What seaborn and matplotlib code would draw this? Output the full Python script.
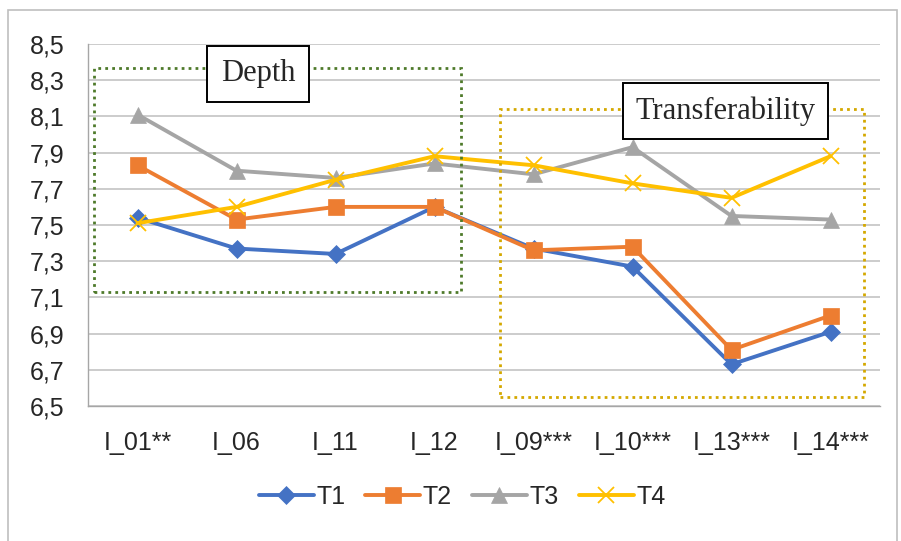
import numpy as np
import pandas as pd
import matplotlib
matplotlib.use("Agg")
import matplotlib.pyplot as plt
import seaborn as sns
from matplotlib.ticker import FuncFormatter
from matplotlib.patches import Rectangle

# ---- data ----
items = ["I_01**", "I_06", "I_11", "I_12", "I_09***", "I_10***", "I_13***", "I_14***"]
t1 = [7.54, 7.37, 7.34, 7.60, 7.37, 7.27, 6.73, 6.91]
t2 = [7.83, 7.53, 7.60, 7.60, 7.36, 7.38, 6.81, 7.00]
t3 = [8.11, 7.80, 7.76, 7.84, 7.78, 7.93, 7.55, 7.53]
t4 = [7.51, 7.60, 7.75, 7.88, 7.83, 7.73, 7.65, 7.88]
series_names = ["T1", "T2", "T3", "T4"]
y_ticks = [6.5, 6.7, 6.9, 7.1, 7.3, 7.5, 7.7, 7.9, 8.1, 8.3, 8.5]

df = pd.DataFrame({"item": items, "T1": t1, "T2": t2, "T3": t3, "T4": t4})
long_df = df.melt(id_vars="item", var_name="series", value_name="score")

palette = {"T1": "#4472C4", "T2": "#ED7D31", "T3": "#A5A5A5", "T4": "#FFC000"}
markers = {"T1": "D", "T2": "s", "T3": "^", "T4": "x"}
sizes = {"T1": 9, "T2": 11, "T3": 11, "T4": 12}

sns.set_style("white")
plt.rcParams["font.family"] = ["Liberation Sans", "DejaVu Sans"]

fig = plt.figure(figsize=(9.01, 5.41), dpi=100)
ax = fig.add_axes([88 / 901, 1 - 406 / 541, 792 / 901, 362 / 541])

for name in series_names:
    sub = long_df[long_df["series"] == name]
    sns.lineplot(data=sub, x="item", y="score", color=palette[name], marker=markers[name],
                 markersize=sizes[name], markeredgecolor=palette[name],
                 markeredgewidth=1.3 if name == "T4" else 0.5,
                 linewidth=2.8, label=name, ax=ax, sort=False)

ax.set_ylim(6.5, 8.5)
ax.set_xlim(-0.5, len(items) - 0.5)
ax.set_yticks(y_ticks)
ax.yaxis.set_major_formatter(FuncFormatter(lambda v, p: f"{v:.1f}".replace(".", ",")))
ax.set_xlabel("")
ax.set_ylabel("")
ax.grid(axis="y", color="#BFBFBF", linewidth=1.1)
ax.set_axisbelow(True)
for s in ["top", "right"]:
    ax.spines[s].set_visible(False)
for s in ["left", "bottom"]:
    ax.spines[s].set_color("#A6A6A6")
    ax.spines[s].set_linewidth(1.0)

# category ticks between items
ax.set_xticks(np.arange(len(items)))
ax.set_xticklabels(items)
ax.set_xticks(np.arange(-0.5, len(items)), minor=True)
ax.tick_params(axis="x", which="major", length=0, labelsize=18, pad=18)
ax.tick_params(axis="x", which="minor", length=7, color="#A6A6A6", direction="out")
ax.tick_params(axis="y", length=7, color="#A6A6A6", direction="out", labelsize=18, pad=10)

# dotted grouping boxes
ax.add_patch(Rectangle((-0.44, 7.13), 3.71, 1.24, fill=False, linestyle=(0, (1, 1.5)),
                       edgecolor="#4E7A2A", linewidth=2.0, zorder=5))
ax.add_patch(Rectangle((3.66, 6.55), 3.68, 1.59, fill=False, linestyle=(0, (1, 1.5)),
                       edgecolor="#D4A800", linewidth=2.0, zorder=5))

ax.text(1.22, 8.335, "Depth", family="Liberation Serif", fontsize=22, ha="center", va="center",
        zorder=6, bbox=dict(boxstyle="square,pad=0.45", facecolor="white",
                            edgecolor="black", linewidth=1.4))
ax.text(5.94, 8.13, "Transferability", family="Liberation Serif", fontsize=22, ha="center",
        va="center", zorder=6, bbox=dict(boxstyle="square,pad=0.42", facecolor="white",
                                         edgecolor="black", linewidth=1.4))

leg = ax.legend(loc="center", bbox_to_anchor=(462 / 901, 1 - 497 / 541),
                bbox_transform=fig.transFigure, ncol=4, frameon=False, fontsize=18,
                handlelength=2.2, columnspacing=0.8, handletextpad=0.1)

# outer chart border
fig.patches.append(Rectangle((8 / 901, -0.01), 889 / 901, 1 - 10 / 541 + 0.01, fill=False,
                             edgecolor="#BFBFBF", linewidth=1.2, transform=fig.transFigure))

fig.savefig("out.png", dpi=100)
